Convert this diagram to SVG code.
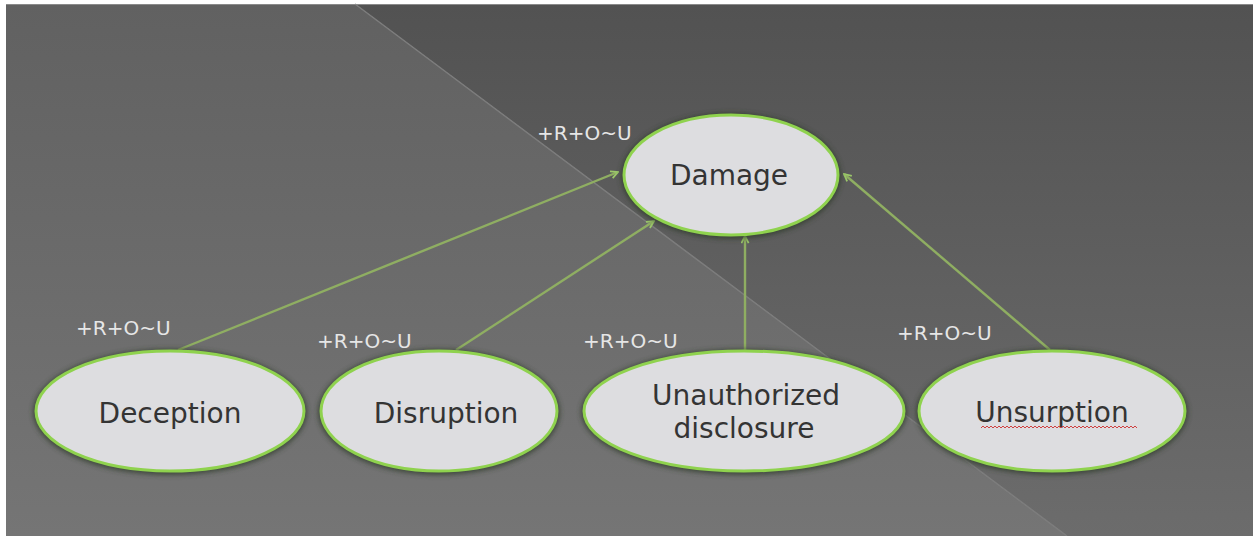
<svg xmlns="http://www.w3.org/2000/svg" width="1253" height="536" viewBox="0 0 1253 536">
<defs>
<linearGradient id="gl" x1="0" y1="0" x2="0" y2="1"><stop offset="0" stop-color="#616161"/><stop offset="1" stop-color="#757575"/></linearGradient>
<linearGradient id="gr" x1="0" y1="0" x2="0" y2="1"><stop offset="0" stop-color="#525252"/><stop offset="1" stop-color="#6c6c6c"/></linearGradient>
<filter id="sh" x="-10%" y="-20%" width="120%" height="140%"><feGaussianBlur stdDeviation="2.5"/></filter>
<marker id="ah" viewBox="0 0 10 10" refX="9" refY="5" markerWidth="9" markerHeight="9" orient="auto" markerUnits="userSpaceOnUse">
<path d="M1,1 L9,5 L1,9" fill="none" stroke="#9cc86a" stroke-width="2"/>
</marker>
<style>
.nshadow{fill:#2f3a2a;opacity:0.75;filter:url(#sh)}
.node{fill:#dddde0;stroke:#8fd24e;stroke-width:3}
.lbl{font-family:"DejaVu Sans",sans-serif;font-size:28px;fill:#343434;text-anchor:middle}
.tag{font-family:"DejaVu Sans",sans-serif;font-size:20px;fill:#e6e6e6}
.edge{stroke:#8fae62;stroke-width:2.4;fill:none;marker-end:url(#ah)}
</style>
</defs>
<rect x="0" y="0" width="1253" height="536" fill="#ffffff"/>
<polygon points="6,4 355,4 1067,536 6,536" fill="url(#gl)"/>
<polygon points="355,4 1253,4 1253,536 1067,536" fill="url(#gr)"/>
<line x1="355" y1="4" x2="1067" y2="536" stroke="#7c7c7c" stroke-width="1.5"/>
<line x1="6" y1="4.5" x2="1253" y2="4.5" stroke="#8a8a8a" stroke-width="1"/>

<g id="connectors">
<line class="edge" x1="178" y1="350" x2="618" y2="172"/>
<line class="edge" x1="456" y1="350" x2="654" y2="221"/>
<line class="edge" x1="745" y1="350" x2="745" y2="236"/>
<line class="edge" x1="1050" y1="350" x2="844" y2="174"/>
</g>

<g id="damage">
<ellipse class="nshadow" cx="731" cy="176" rx="110" ry="63"/>
<ellipse class="node" cx="731" cy="175" rx="107" ry="60"/>
<text class="lbl" x="729" y="185">Damage</text>
<text class="tag" x="537" y="140">+R+O~U</text>
</g>

<g id="deception">
<ellipse class="nshadow" cx="170" cy="412" rx="137" ry="63"/>
<ellipse class="node" cx="170" cy="411" rx="134" ry="60"/>
<text class="lbl" x="170" y="423">Deception</text>
<text class="tag" x="76" y="335">+R+O~U</text>
</g>

<g id="disruption">
<ellipse class="nshadow" cx="439" cy="412" rx="121" ry="63"/>
<ellipse class="node" cx="439" cy="411" rx="118" ry="60"/>
<text class="lbl" x="446" y="423">Disruption</text>
<text class="tag" x="317" y="348">+R+O~U</text>
</g>

<g id="unauthorized">
<ellipse class="nshadow" cx="744" cy="412" rx="163" ry="63"/>
<ellipse class="node" cx="744" cy="411" rx="160" ry="60"/>
<text class="lbl" x="746" y="405">Unauthorized</text>
<text class="lbl" x="744" y="438">disclosure</text>
<text class="tag" x="583" y="348">+R+O~U</text>
</g>

<g id="unsurption">
<ellipse class="nshadow" cx="1052" cy="412" rx="136" ry="63"/>
<ellipse class="node" cx="1052" cy="411" rx="133" ry="60"/>
<text class="lbl" x="1052" y="422">Unsurption</text>
<path d="M981,428 l2,-2 l2,2 l2,-2 l2,2 l2,-2 l2,2 l2,-2 l2,2 l2,-2 l2,2 l2,-2 l2,2 l2,-2 l2,2 l2,-2 l2,2 l2,-2 l2,2 l2,-2 l2,2 l2,-2 l2,2 l2,-2 l2,2 l2,-2 l2,2 l2,-2 l2,2 l2,-2 l2,2 l2,-2 l2,2 l2,-2 l2,2 l2,-2 l2,2 l2,-2 l2,2 l2,-2 l2,2 l2,-2 l2,2 l2,-2 l2,2 l2,-2 l2,2 l2,-2 l2,2 l2,-2 l2,2 l2,-2 l2,2 l2,-2 l2,2 l2,-2 l2,2 l2,-2 l2,2 l2,-2 l2,2 l2,-2 l2,2 l2,-2 l2,2 l2,-2 l2,2 l2,-2 l2,2 l2,-2 l2,2 l2,-2 l2,2 l2,-2 l2,2 l2,-2 l2,2 l2,-2 l2,2" fill="none" stroke="#d04040" stroke-width="1"/>
<text class="tag" x="897" y="340">+R+O~U</text>
</g>
</svg>
